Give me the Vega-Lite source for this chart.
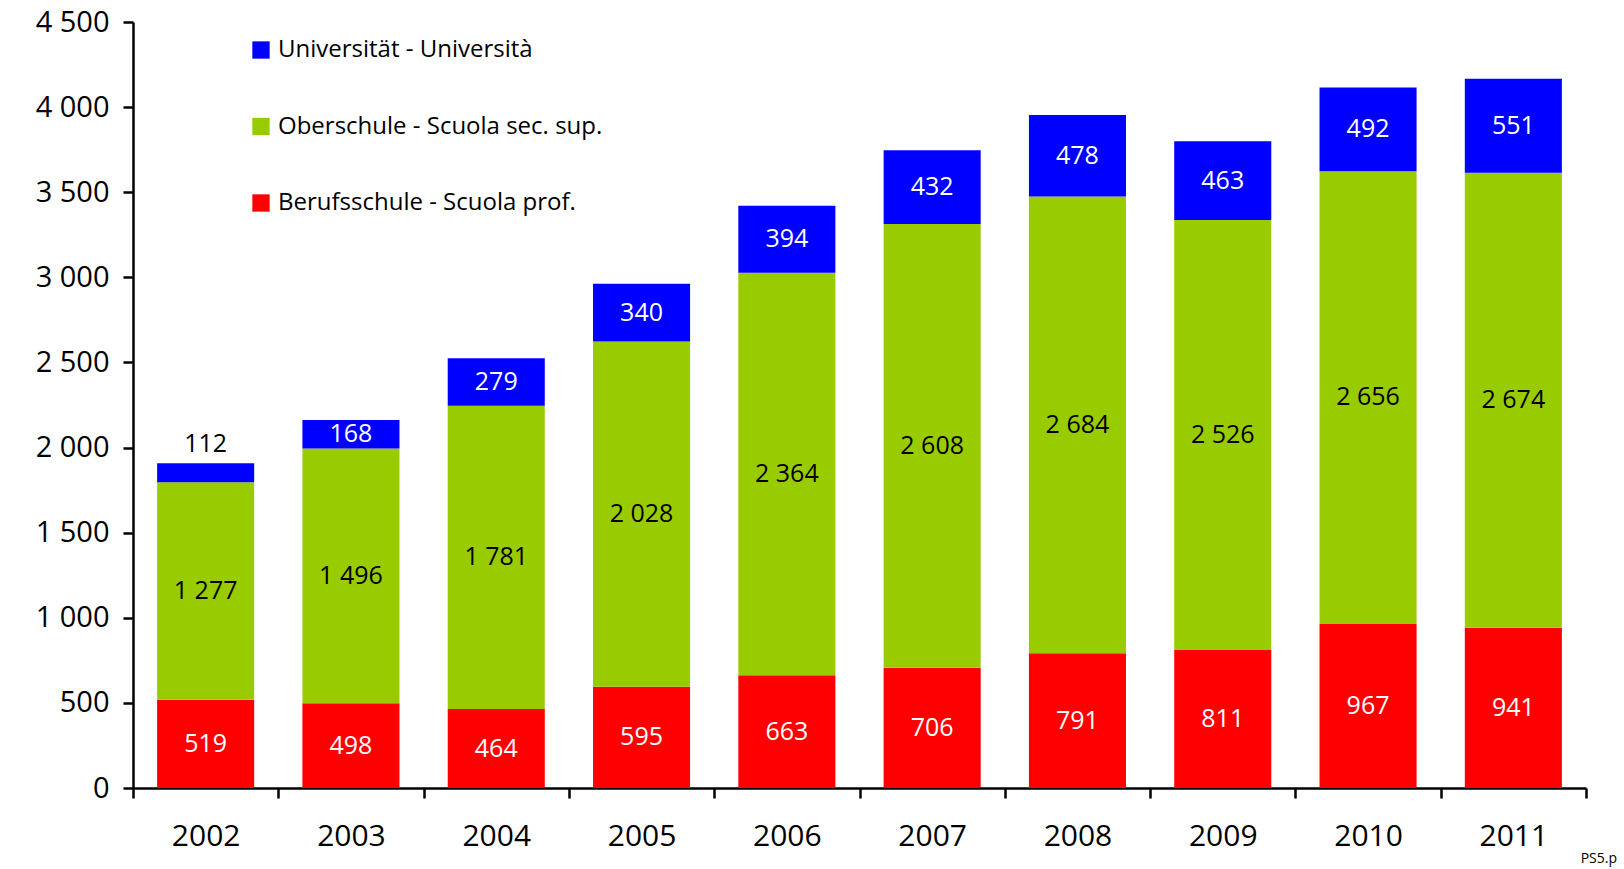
{
  "$schema": "https://vega.github.io/schema/vega-lite/v6.json",
  "width": 1453,
  "height": 766,
  "autosize": {"type": "none"},
  "padding": {"left": 133, "top": 22, "right": 38, "bottom": 81},
  "background": "white",
  "config": {
    "locale": {"number": {"decimal": ",", "thousands": " ", "grouping": [3], "currency": ["", ""]}},
    "view": {"stroke": null},
    "font": "Open Sans"
  },
  "title": {"text": "PS5.p", "orient": "bottom", "anchor": "end", "frame": "group", "fontSize": 14, "fontWeight": "normal", "font": "Open Sans", "dx": 31, "offset": 1, "color": "black"},
  "data": {"values": [
    {"year": "2002", "type": "Berufsschule - Scuola prof.", "value": 519},
    {"year": "2002", "type": "Oberschule - Scuola sec. sup.", "value": 1277},
    {"year": "2002", "type": "Universität - Università", "value": 112},
    {"year": "2003", "type": "Berufsschule - Scuola prof.", "value": 498},
    {"year": "2003", "type": "Oberschule - Scuola sec. sup.", "value": 1496},
    {"year": "2003", "type": "Universität - Università", "value": 168},
    {"year": "2004", "type": "Berufsschule - Scuola prof.", "value": 464},
    {"year": "2004", "type": "Oberschule - Scuola sec. sup.", "value": 1781},
    {"year": "2004", "type": "Universität - Università", "value": 279},
    {"year": "2005", "type": "Berufsschule - Scuola prof.", "value": 595},
    {"year": "2005", "type": "Oberschule - Scuola sec. sup.", "value": 2028},
    {"year": "2005", "type": "Universität - Università", "value": 340},
    {"year": "2006", "type": "Berufsschule - Scuola prof.", "value": 663},
    {"year": "2006", "type": "Oberschule - Scuola sec. sup.", "value": 2364},
    {"year": "2006", "type": "Universität - Università", "value": 394},
    {"year": "2007", "type": "Berufsschule - Scuola prof.", "value": 706},
    {"year": "2007", "type": "Oberschule - Scuola sec. sup.", "value": 2608},
    {"year": "2007", "type": "Universität - Università", "value": 432},
    {"year": "2008", "type": "Berufsschule - Scuola prof.", "value": 791},
    {"year": "2008", "type": "Oberschule - Scuola sec. sup.", "value": 2684},
    {"year": "2008", "type": "Universität - Università", "value": 478},
    {"year": "2009", "type": "Berufsschule - Scuola prof.", "value": 811},
    {"year": "2009", "type": "Oberschule - Scuola sec. sup.", "value": 2526},
    {"year": "2009", "type": "Universität - Università", "value": 463},
    {"year": "2010", "type": "Berufsschule - Scuola prof.", "value": 967},
    {"year": "2010", "type": "Oberschule - Scuola sec. sup.", "value": 2656},
    {"year": "2010", "type": "Universität - Università", "value": 492},
    {"year": "2011", "type": "Berufsschule - Scuola prof.", "value": 941},
    {"year": "2011", "type": "Oberschule - Scuola sec. sup.", "value": 2674},
    {"year": "2011", "type": "Universität - Università", "value": 551}
  ]},
  "transform": [
    {"stack": "value", "groupby": ["year"], "sort": [{"field": "type", "order": "ascending"}], "as": ["y0", "y1"]},
    {"calculate": "(datum.y0 + datum.y1) / 2", "as": "mid"}
  ],
  "encoding": {
    "x": {
      "field": "year", "type": "nominal", "title": null,
      "scale": {"paddingInner": 0, "paddingOuter": 0},
      "axis": {"labelAngle": 0, "labelFontSize": 30, "labelFont": "Open Sans", "labelColor": "black", "labelPadding": 23, "tickBand": "extent", "tickSize": 10, "tickWidth": 2.5, "tickColor": "black", "domainColor": "black", "domainWidth": 2.5}
    }
  },
  "layer": [
    {
      "mark": {"type": "bar", "width": {"band": 0.668}},
      "encoding": {
        "y": {"field": "y0", "type": "quantitative", "title": null,
          "scale": {"domain": [0, 4500], "nice": false},
          "axis": {"values": [0, 500, 1000, 1500, 2000, 2500, 3000, 3500, 4000, 4500], "format": ",.0f", "grid": false, "labelFontSize": 29, "labelFont": "Open Sans", "labelColor": "black", "labelPadding": 14, "tickSize": 10, "tickWidth": 2.5, "tickColor": "black", "domainColor": "black", "domainWidth": 2.5}},
        "y2": {"field": "y1"},
        "color": {
          "field": "type", "type": "nominal", "title": null,
          "scale": {"domain": ["Universität - Università", "Oberschule - Scuola sec. sup.", "Berufsschule - Scuola prof."], "range": ["#0000FF", "#99CC00", "#FF0000"]},
          "legend": {"orient": "none", "legendX": 116, "legendY": 16, "symbolType": "square", "symbolSize": 300, "symbolStrokeWidth": 0, "labelFontSize": 24, "labelFont": "Open Sans", "labelColor": "black", "labelOffset": 5, "rowPadding": 52.5, "labelLimit": 600}
        }
      }
    },
    {
      "transform": [{"filter": "datum.value >= 150"}],
      "mark": {"type": "text", "fontSize": 25, "font": "Open Sans", "baseline": "middle", "align": "center"},
      "encoding": {
        "y": {"field": "mid", "type": "quantitative"},
        "text": {"field": "value", "type": "quantitative", "format": ",.0f"},
        "color": {"condition": {"test": "datum.type === 'Oberschule - Scuola sec. sup.'", "value": "black"}, "value": "white"}
      }
    },
    {
      "transform": [{"filter": "datum.value < 150"}],
      "mark": {"type": "text", "fontSize": 25, "font": "Open Sans", "baseline": "bottom", "align": "center", "dy": -6, "color": "black"},
      "encoding": {
        "y": {"field": "y1", "type": "quantitative"},
        "text": {"field": "value", "type": "quantitative", "format": ",.0f"}
      }
    }
  ]
}
